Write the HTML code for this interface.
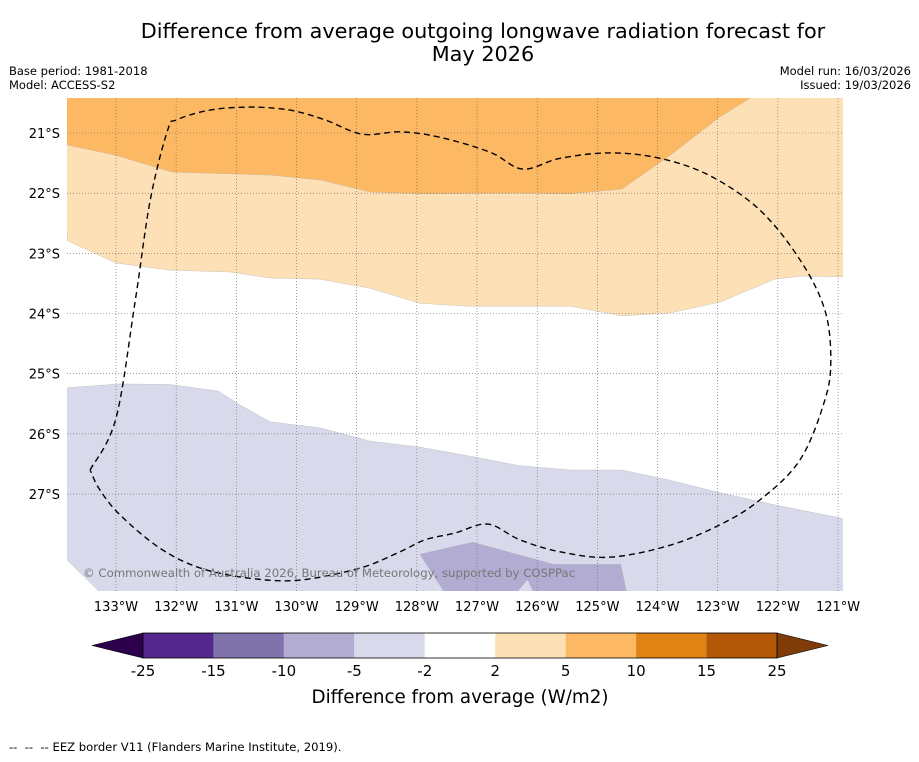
<!DOCTYPE html>
<html><head><meta charset="utf-8"><style>
body{margin:0;background:#fff;font-family:"DejaVu Sans","Liberation Sans",sans-serif;}
svg text{font-family:"DejaVu Sans","Liberation Sans",sans-serif;}
</style></head><body>
<svg id="chart" width="919" height="758" viewBox="0 0 919 758" xmlns="http://www.w3.org/2000/svg">
<rect width="919" height="758" fill="#fff"/>
<text x="483" y="38" font-size="20.8" text-anchor="middle">Difference from average outgoing longwave radiation forecast for</text>
<text x="483" y="61" font-size="20.8" text-anchor="middle">May 2026</text>
<text x="9" y="75" font-size="11.5">Base period: 1981-2018</text>
<text x="9" y="89" font-size="11.5">Model: ACCESS-S2</text>
<text x="911" y="75" font-size="11.5" text-anchor="end">Model run: 16/03/2026</text>
<text x="911" y="89" font-size="11.5" text-anchor="end">Issued: 19/03/2026</text>
<defs><clipPath id="mapclip"><rect x="67" y="98" width="776" height="493"/></clipPath></defs>
<g id="map" clip-path="url(#mapclip)"></g>
<g id="axes"></g>
<g id="cbar"></g>
<text x="460" y="703" font-size="18.3" text-anchor="middle">Difference from average (W/m2)</text>
<text x="9" y="751" font-size="11.6" xml:space="preserve">--  --  -- EEZ border V11 (Flanders Marine Institute, 2019).</text>
</svg>
<script>
// Data (lon, lat)
const orangeTop = [[-133.9,-20.3],[-133.81,-21.2],[-133,-21.37],[-132.07,-21.65],[-130.44,-21.70],[-129.61,-21.78],[-128.78,-21.98],[-127.95,-22.01],[-126.29,-22.0],[-125.45,-22.01],[-124.59,-21.93],[-123.79,-21.37],[-122.96,-20.73],[-122.46,-20.42],[-122.4,-20.3]];
const lightOrange = [[-133.9,-20.3],[-133.81,-22.79],[-133,-23.16],[-132.10,-23.28],[-131.11,-23.31],[-130.44,-23.41],[-129.61,-23.43],[-128.78,-23.58],[-127.95,-23.83],[-127.12,-23.88],[-125.45,-23.88],[-124.59,-24.04],[-123.79,-23.99],[-122.96,-23.81],[-122.05,-23.43],[-121.63,-23.38],[-120.8,-23.39],[-120.8,-20.3]];
const lightPurple = [[-133.9,-25.24],[-132.93,-25.17],[-132.10,-25.18],[-131.30,-25.29],[-130.94,-25.52],[-130.44,-25.80],[-129.61,-25.90],[-128.78,-26.12],[-127.95,-26.22],[-127.12,-26.37],[-126.29,-26.53],[-125.45,-26.60],[-124.59,-26.60],[-123.79,-26.77],[-122.96,-26.98],[-122.05,-27.18],[-120.8,-27.43],[-120.8,-28.8],[-133.10,-28.8],[-133.81,-28.10],[-133.9,-28.10]];
const midPurple = [[-127.95,-28.00],[-127.07,-27.80],[-126.20,-28.04],[-125.72,-28.17],[-124.61,-28.17],[-124.48,-28.8],[-125.98,-28.8],[-126.16,-28.42],[-126.48,-28.8],[-127.43,-28.8]];
const eez = [[-133.43,-26.60],[-133.00,-25.74],[-132.68,-23.78],[-132.43,-22.11],[-132.14,-20.95],[-131.99,-20.78],[-131.44,-20.62],[-130.77,-20.57],[-130.11,-20.62],[-129.53,-20.78],[-128.91,-21.02],[-128.28,-20.98],[-127.62,-21.07],[-126.78,-21.32],[-126.24,-21.60],[-125.62,-21.42],[-124.79,-21.33],[-123.96,-21.42],[-123.13,-21.71],[-122.30,-22.28],[-121.63,-23.11],[-121.22,-23.94],[-121.12,-24.77],[-121.22,-25.44],[-121.63,-26.43],[-122.30,-27.10],[-122.96,-27.51],[-123.79,-27.85],[-124.79,-28.05],[-125.62,-27.96],[-126.29,-27.76],[-126.82,-27.50],[-127.37,-27.65],[-127.86,-27.76],[-128.28,-27.96],[-128.94,-28.23],[-129.94,-28.43],[-130.77,-28.40],[-131.60,-28.23],[-132.27,-27.90],[-132.93,-27.35],[-133.27,-26.93],[-133.43,-26.60]];
const lonTicks = [-133,-132,-131,-130,-129,-128,-127,-126,-125,-124,-123,-122,-121];
const latTicks = [-21,-22,-23,-24,-25,-26,-27];
const cbarLabels = ["-25","-15","-10","-5","-2","2","5","10","15","25"];
const cbarColors = ["#54278f","#8073ac","#b2abd2","#d8daeb","#ffffff","#fee0b6","#fdb863","#e08214","#b35806"];

const PX = 60.17;
const xs = lon => 116 + (lon + 133) * PX;
const ys = lat => 133 + (-21 - lat) * PX;
const NS = "http://www.w3.org/2000/svg";
function mk(tag, attrs, parent){const e=document.createElementNS(NS,tag);for(const k in attrs)e.setAttribute(k,attrs[k]);parent.appendChild(e);return e;}
const pts = arr => arr.map(p => xs(p[0]).toFixed(1)+","+ys(p[1]).toFixed(1)).join(" ");
function smoothPath(arr){
  const P = arr.map(p=>[xs(p[0]),ys(p[1])]);
  let d = "M"+P[0][0].toFixed(1)+","+P[0][1].toFixed(1);
  for(let i=0;i<P.length-1;i++){
    const p0=P[Math.max(i-1,0)],p1=P[i],p2=P[i+1],p3=P[Math.min(i+2,P.length-1)];
    const c1=[p1[0]+(p2[0]-p0[0])/6,p1[1]+(p2[1]-p0[1])/6];
    const c2=[p2[0]-(p3[0]-p1[0])/6,p2[1]-(p3[1]-p1[1])/6];
    d+=` C${c1[0].toFixed(1)},${c1[1].toFixed(1)} ${c2[0].toFixed(1)},${c2[1].toFixed(1)} ${p2[0].toFixed(1)},${p2[1].toFixed(1)}`;
  }
  return d;
}

const map = document.getElementById("map");
const layers = [[lightOrange,"#fee0b6","region-2-to-5"],[orangeTop,"#fdb863","region-5-to-10"],[lightPurple,"#d8daeb","region-minus2-to-minus5"],[midPurple,"#b2abd2","region-minus5-to-minus10"]];
layers.forEach(l => {
  const p = mk("polygon",{points:pts(l[0]),fill:l[1],stroke:"#aaa","stroke-width":"0.3"},map);
  
  
});
const ax = document.getElementById("axes");
lonTicks.forEach(lon => {
  const g = mk("line",{x1:xs(lon),x2:xs(lon),y1:98,y2:591,stroke:"#666","stroke-width":"0.6","stroke-dasharray":"1,2"},ax);
  
  
  const t = mk("text",{x:xs(lon),y:611,"font-size":"13","text-anchor":"middle"},ax);
  t.textContent = Math.abs(lon)+"°W";
  
  
});
latTicks.forEach(lat => {
  const g = mk("line",{x1:67,x2:843,y1:ys(lat),y2:ys(lat),stroke:"#666","stroke-width":"0.6","stroke-dasharray":"1,2"},ax);
  
  
  const t = mk("text",{x:60,y:ys(lat)+5,"font-size":"13","text-anchor":"end"},ax);
  t.textContent = Math.abs(lat)+"°S";
  
  
});
const ez = mk("path",{d:smoothPath(eez),fill:"none",stroke:"#000","stroke-width":"1.4","stroke-dasharray":"6,4"},ax);


const cp = mk("text",{x:83,y:577,"font-size":"11.7",fill:"#777"},ax);
cp.textContent = "© Commonwealth of Australia 2026, Bureau of Meteorology, supported by COSPPac";



const cb = document.getElementById("cbar");
const cx0 = 143, cw = 634/cbarColors.length, cy0 = 633, ch = 25;
const lt = mk("polygon",{points:`${cx0},${cy0} ${cx0},${cy0+ch} 92,${cy0+ch/2}`,fill:"#2d004b",stroke:"#000","stroke-width":"0.6"},cb);


const rt = mk("polygon",{points:`${cx0+634},${cy0} ${cx0+634},${cy0+ch} 828,${cy0+ch/2}`,fill:"#7f3b08",stroke:"#000","stroke-width":"0.6"},cb);


cbarColors.forEach((c,i) => {
  const r = mk("rect",{x:cx0+i*cw,y:cy0,width:cw,height:ch,fill:c},cb);
  
  
});
mk("rect",{x:cx0,y:cy0,width:634,height:ch,fill:"none",stroke:"#000","stroke-width":"0.8"},cb);
cbarLabels.forEach((s,i) => {
  const t = mk("text",{x:cx0+i*cw,y:676,"font-size":"15","text-anchor":"middle"},cb);
  t.textContent = s;
  
  
});
</script>
</body></html>
